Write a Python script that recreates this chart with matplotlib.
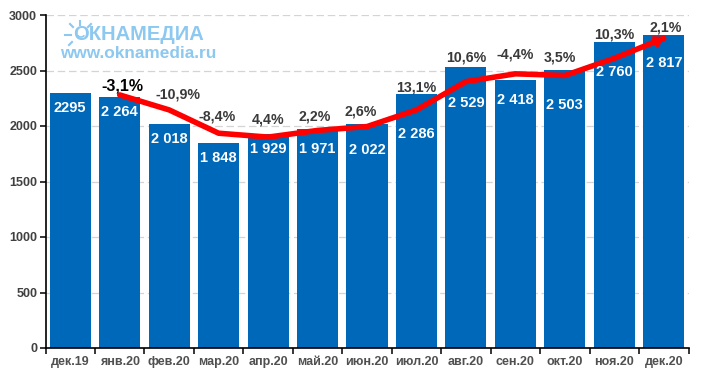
import matplotlib.pyplot as plt
from matplotlib.lines import Line2D
from matplotlib.patches import Arc

plt.rcParams['font.family'] = ['Liberation Sans', 'DejaVu Sans']

months = ['дек.19', 'янв.20', 'фев.20', 'мар.20', 'апр.20', 'май.20', 'июн.20',
          'июл.20', 'авг.20', 'сен.20', 'окт.20', 'ноя.20', 'дек.20']
values = [2295, 2264, 2018, 1848, 1929, 1971, 2022, 2286, 2529, 2418, 2503, 2760, 2817]
value_labels = ['2295', '2 264', '2 018', '1 848', '1 929', '1 971', '2 022',
                '2 286', '2 529', '2 418', '2 503', '2 760', '2 817']
trend = [2280, 2145, 1935, 1900, 1960, 1995, 2145, 2400, 2470, 2455, 2610, 2790]
pct_labels = ['-3,1%', '-10,9%', '-8,4%', '4,4%', '2,2%', '2,6%', '13,1%',
              '10,6%', '-4,4%', '3,5%', '10,3%', '2,1%']

# label places read from the picture, not bar values
value_label_y = [2160, 2130, 1880, 1715, 1795, 1795, 1785, 1930, 2205, 2235, 2185, 2490, 2570]
pct_label_y = [2360, 2285, 2090, 2055, 2090, 2135, 2350, 2620, 2640, 2620, 2820, 2885]
pct_label_dx = [0.06, 0.17, -0.03, 0, -0.05, -0.12, 0, 0, 0, -0.1, 0, 0.03]

fig = plt.figure(figsize=(7.03, 3.78), dpi=100)
ax = fig.add_axes([45.5 / 703, 1 - 348 / 378, (688.5 - 45.5) / 703, 333 / 378])

x = list(range(len(months)))
ax.bar(x, values, width=0.83, color='#0068b9', zorder=2)
ax.set_xlim(-0.5, 12.5)
ax.set_ylim(0, 3000)
ax.set_yticks([0, 500, 1000, 1500, 2000, 2500, 3000])
ax.yaxis.grid(True, color='#d4d4d4', linestyle=(0, (6, 3)), linewidth=0.9, zorder=0)
ax.set_axisbelow(True)

for s in ['top', 'right']:
    ax.spines[s].set_visible(False)
for s in ['left', 'bottom']:
    ax.spines[s].set_linewidth(1.2)
    ax.spines[s].set_color('black')

ax.set_xticks([i - 0.5 for i in range(14)])
ax.set_xticklabels([])
ax.set_xticks(x, minor=True)
ax.set_xticklabels(months, minor=True, fontsize=9, fontweight='bold', color='#505050')
ax.tick_params(axis='x', which='major', length=4, width=1.1, color='black')
ax.tick_params(axis='x', which='minor', length=0, pad=6)
ax.tick_params(axis='y', length=4, width=1.1, color='black', pad=2, labelsize=9, labelcolor='#404040')
for t in ax.get_yticklabels():
    t.set_fontweight('bold')

for i, lab in enumerate(value_labels):
    ax.text(i, value_label_y[i], lab, ha='center', va='center', color='white',
            fontsize=10.5, fontweight='bold', zorder=5)

ax.plot(x[1:], trend, color='#ff0000', linewidth=4, solid_joinstyle='round',
        solid_capstyle='round', zorder=4)
ax.annotate('', xy=(x[-1] + 0.03, trend[-1] + 12), xytext=(x[-1] - 0.3, trend[-1] - 60),
            arrowprops=dict(arrowstyle='-|>,head_width=0.35,head_length=0.6', color='#ff0000',
                            lw=2, shrinkA=0, shrinkB=0), zorder=4)

for i, lab in enumerate(pct_labels):
    first = i == 0
    ax.text(i + 1 + pct_label_dx[i], pct_label_y[i], lab, ha='center', va='center',
            color='black' if first else '#3a3a3a',
            fontsize=11.5 if first else 10.2, fontweight='bold', zorder=6)

# logo, the O of the name doubles as the sun's face
logo = '#8cc8f0'
fig.text(73 / 703, 1 - 35 / 378, 'ОКНАМЕДИА', ha='left', va='center',
         fontsize=14.5, fontweight='bold', color=logo, zorder=3)
fig.text(60 / 703, 1 - 54 / 378, 'www.oknamedia.ru', ha='left', va='center',
         fontsize=12.4, fontweight='bold', color=logo, zorder=3)

sun = fig.add_axes([0, 0, 1, 1], facecolor='none', zorder=5)
sun.set_xlim(0, 703)
sun.set_ylim(378, 0)
sun.set_aspect('equal')
sun.axis('off')
sun.add_patch(Arc((81, 34), 7, 6, theta1=20, theta2=160, color=logo, linewidth=1.2))
for x0, y0, x1, y1 in [(80, 21, 80, 25), (70, 24, 73, 27), (91, 24, 88, 27),
                       (65, 35, 71, 35), (69, 45, 72, 42)]:
    sun.add_line(Line2D([x0, x1], [y0, y1], color=logo, linewidth=1.5))

fig.savefig('out.png', dpi=100)
